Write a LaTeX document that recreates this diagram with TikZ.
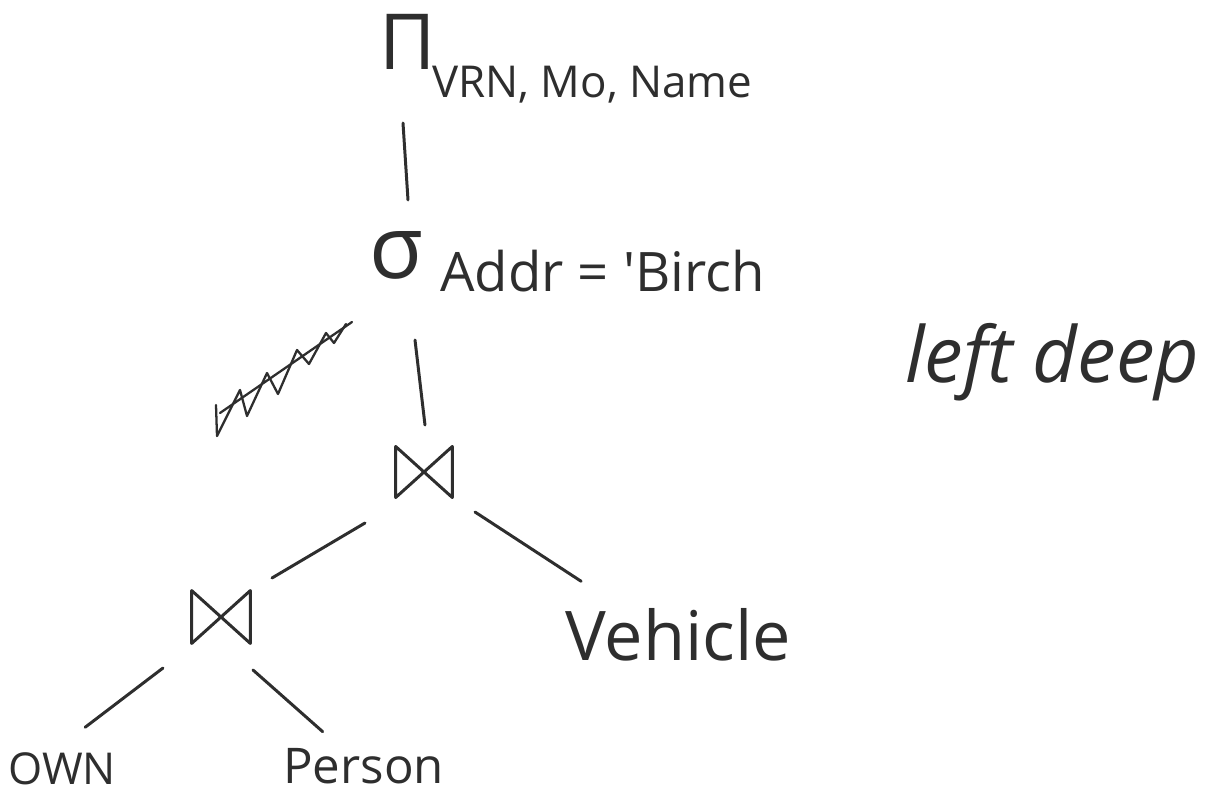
\documentclass[tikz,border=0pt]{standalone}
\usepackage{fontspec}
\setmainfont{Open Sans}
\begin{document}
\begin{tikzpicture}[x=0.02cm,y=-0.02cm,
  ink/.style={draw=black!82, line width=1.7pt, line cap=round, line join=round},
  lbl/.style={text=black!82, inner sep=0pt, anchor=base west},
  op/.style={text=black!82, inner sep=0pt},
  join/.style={minimum width=#1*0.02cm, minimum height=#1*0.018cm, inner sep=0pt},
  join/.default=56]
\useasboundingbox (0,0) rectangle (1225,794);

% operators
\node[op, font=\fontsize{44}{44}\selectfont] (pi) at (408,42) {Π};
\node[lbl, font=\fontsize{25}{25}\selectfont] (pisub) at (432,98) {VRN, Mo, Name};
\node[op, font=\fontsize{50}{50}\selectfont] (sigma) at (396,255) {σ};
\node[lbl, font=\fontsize{31}{31}\selectfont] (sigsub) at (440,292) {Addr = \textquotesingle Birch};
\node[join=56] (j1) at (424,472) {};
\node[join=58] (j2) at (221,617) {};
% bowtie glyphs of the two joins
\foreach \j in {j1,j2}
  \draw[ink] (\j.north west) -- (\j.south west) -- (\j.north east) -- (\j.south east) -- cycle;

% relations
\node[lbl, font=\fontsize{39}{39}\selectfont] (vehicle) at (565,660) {Vehicle};
\node[lbl, font=\fontsize{25}{25}\selectfont] (own) at (8,784) {OWN};
\node[lbl, font=\fontsize{28}{28}\selectfont] (person) at (283,783) {Person};
\node[lbl, font=\itshape\fontsize{44}{44}\selectfont] (note) at (905,382) {left deep};

% tree edges
\draw[ink] ([shift={(-5,81)}]pi.center) -- ([shift={(12,-55)}]sigma.center);
\draw[ink] ([shift={(19,85)}]sigma.center) -- ([shift={(1,-47)}]j1.center);
\draw[ink] ([shift={(-59,51)}]j1.center) -- ([shift={(51,-39)}]j2.center);
\draw[ink] ([shift={(51,40)}]j1.center) -- ([shift={(-97,-53)}]vehicle.center);
\draw[ink] ([shift={(-58,51)}]j2.center) -- ([shift={(23,-41)}]own.center);
\draw[ink] ([shift={(32,53)}]j2.center) -- ([shift={(-41,-34)}]person.center);

% struck-out scribble
\draw[ink, line width=1.3pt] (216,405) -- (217,436) -- (240,390) -- (247,416) -- (267,373) -- (278,394)
  -- (297,350) -- (309,364) -- (326,333) -- (334,343) -- (346,324);
\draw[ink, line width=1.3pt] (220,413) -- (352,322);
\end{tikzpicture}
\end{document}
